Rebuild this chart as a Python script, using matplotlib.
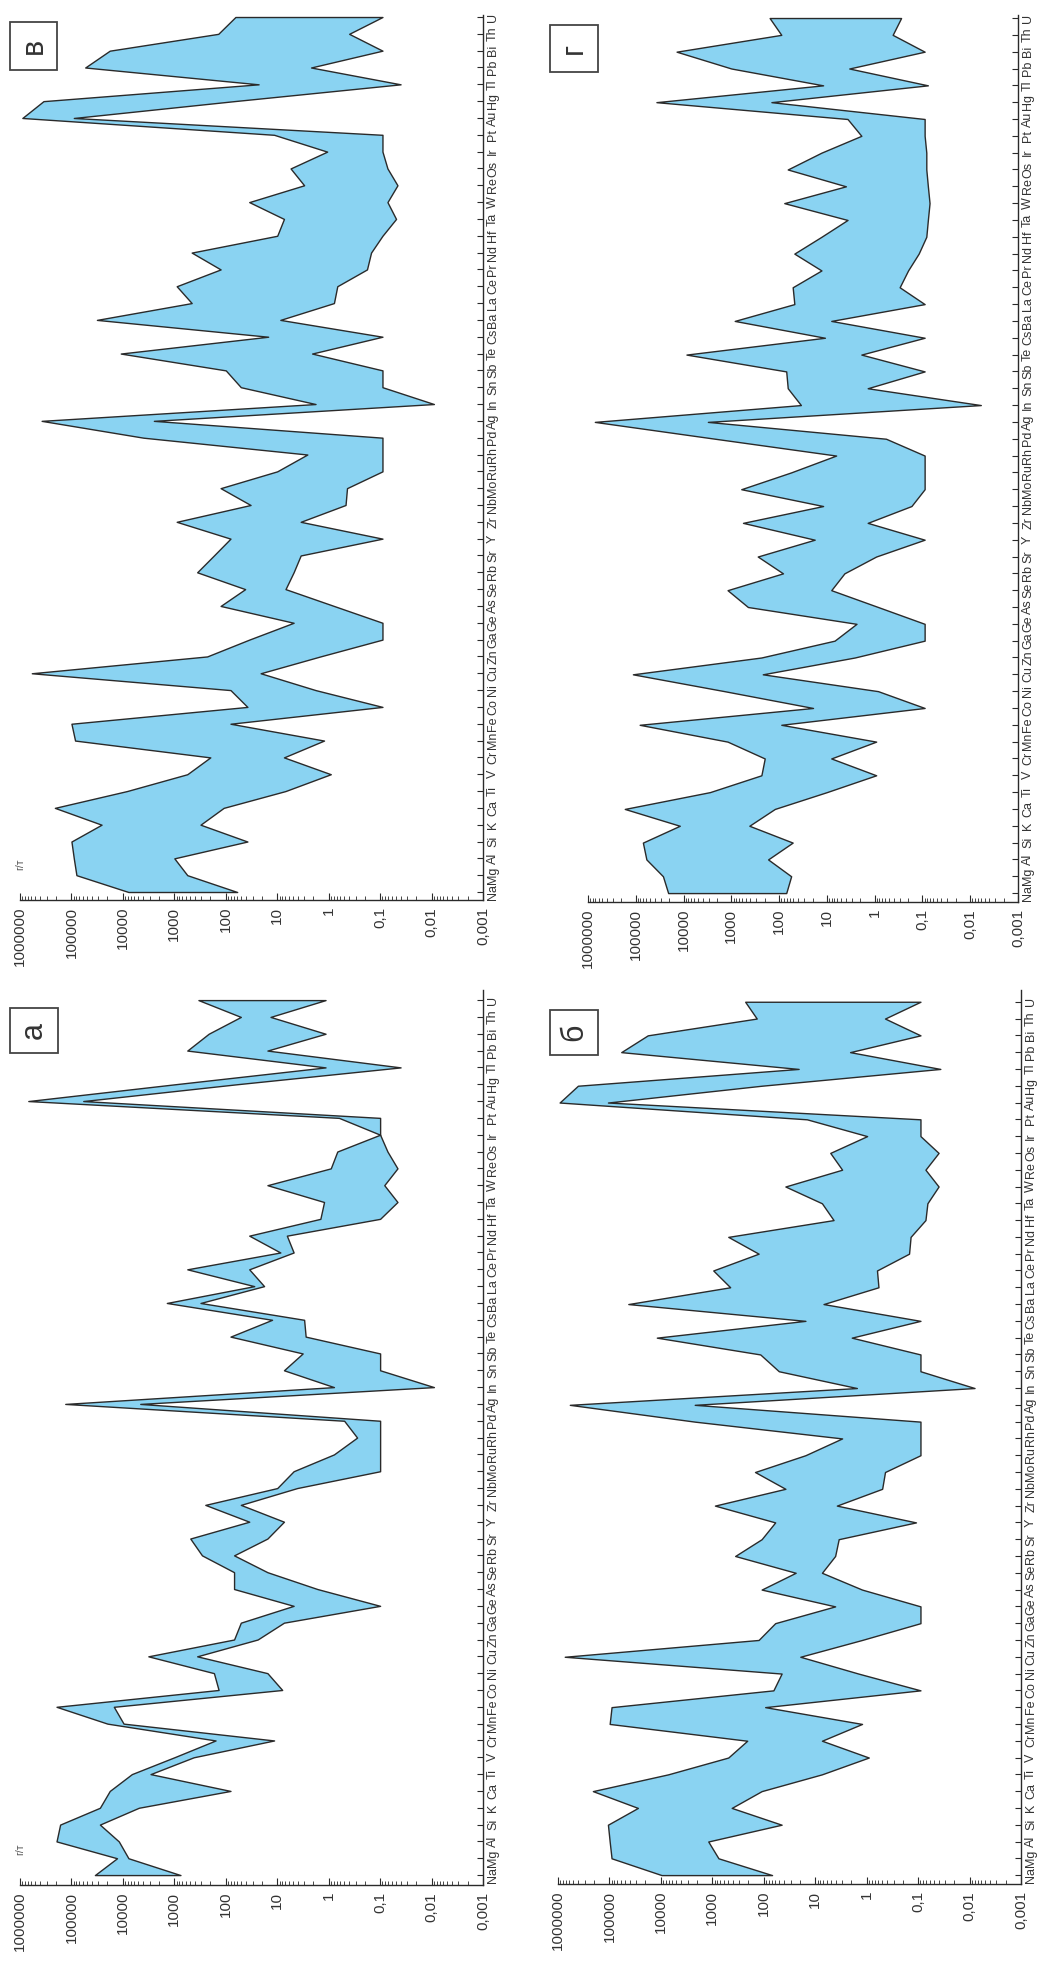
import numpy as np
import matplotlib
matplotlib.use("Agg")
import matplotlib.pyplot as plt
from matplotlib.patches import Rectangle
from matplotlib.ticker import LogLocator, NullFormatter

plt.rcParams['font.family'] = ['Liberation Sans', 'DejaVu Sans']

elements = ["Na", "Mg", "Al", "Si", "K", "Ca", "Ti", "V", "Cr", "Mn", "Fe", "Co", "Ni",
            "Cu", "Zn", "Ga", "Ge", "As", "Se", "Rb", "Sr", "Y", "Zr", "Nb", "Mo", "Ru",
            "Rh", "Pd", "Ag", "In", "Sn", "Sb", "Te", "Cs", "Ba", "La", "Ce", "Pr", "Nd",
            "Hf", "Ta", "W", "Re", "Os", "Ir", "Pt", "Au", "Hg", "Tl", "Pb", "Bi", "Th", "U"]

value_ticks = [1e6, 1e5, 1e4, 1e3, 1e2, 10, 1, 0.1, 0.01, 0.001]
value_labels = ["1000000", "100000", "10000", "1000", "100", "10", "1", "0,1", "0,01", "0,001"]

# panel "а"
a_max = [35000, 13000, 195000, 166000, 28000, 18000, 6700, 1000, 158, 20000, 195000, 138, 170,
         3200, 69, 51, 4.8, 69, 69, 290, 490, 35, 250, 10, 4.8, 0.79, 0.28, 0.5, 132000, 0.79,
         7.4, 3.2, 81, 12.6, 1400, 28, 560, 8.7, 35, 1.45, 1.23, 15.5, 0.91, 0.68, 0.1, 0.63,
         690000, 950, 1.15, 560, 215, 51, 340]
a_min = [760, 7800, 12000, 28000, 4900, 81, 2900, 420, 11.5, 9700, 15000, 8.0, 15.5,
         360, 24, 7.4, 0.1, 1.66, 15.5, 69, 15.5, 7.4, 51, 4.1, 0.1, 0.1, 0.1, 0.1, 4600, 0.009,
         0.1, 0.1, 2.8, 3.0, 310, 18, 35, 4.8, 6.5, 0.1, 0.046, 0.083, 0.046, 0.072, 0.1, 0.1,
         59000, 60, 0.04, 15.5, 1.15, 13.5, 1.15]

# panel "б"
b_max = [9700, 91000, 99000, 107000, 28000, 210000, 7200, 490, 210, 99000, 91000, 65, 45,
         740000, 126, 60, 4.1, 110, 24, 360, 110, 60, 890, 38, 148, 15.5, 3.0, 2200, 590000, 1.55,
         51, 117, 12000, 15.5, 43000, 450, 960, 126, 490, 4.4, 7.4, 38, 3.0, 5.1, 0.98, 14.5,
         930000, 410000, 21, 59000, 18000, 137, 230]
b_min = [69, 760, 1200, 45, 420, 110, 7.4, 0.91, 7.4, 1.23, 94, 0.09, 1.45,
         19.5, 1.23, 0.09, 0.09, 1.23, 7.4, 4.1, 3.5, 0.11, 3.8, 0.5, 0.44, 0.09, 0.09, 0.09, 2200, 0.008,
         0.09, 0.09, 1.95, 0.09, 6.9, 0.59, 0.63, 0.15, 0.14, 0.072, 0.066, 0.04, 0.072, 0.04, 0.09, 0.09,
         107000, 110, 0.037, 2.1, 0.09, 0.44, 0.09]

# panel "в"
v_max = [7800, 80000, 90000, 100000, 26000, 210000, 8300, 560, 200, 85000, 100000, 38, 81,
         590000, 230, 35, 4.8, 126, 42, 360, 170, 81, 900, 33, 126, 10, 2.6, 4000, 380000, 1.8,
         51, 100, 11000, 15, 32000, 460, 900, 126, 460, 10, 7.4, 35, 3.0, 5.5, 1.07, 11.5,
         900000, 350000, 23, 54000, 18000, 140, 65]
v_min = [60, 560, 1000, 38, 310, 110, 6.9, 0.91, 7.4, 1.23, 81, 0.09, 1.8,
         21, 1.45, 0.09, 0.09, 0.79, 6.9, 4.8, 3.5, 0.09, 3.5, 0.47, 0.44, 0.09, 0.09, 0.09, 2500, 0.009,
         0.09, 0.09, 2.1, 0.09, 8.7, 0.79, 0.68, 0.18, 0.15, 0.09, 0.049, 0.072, 0.046, 0.072, 0.09, 0.09,
         90000, 69, 0.04, 2.2, 0.09, 0.4, 0.09]

# panel "г"
g_max = [21000, 27000, 60000, 71000, 12000, 170000, 2800, 235, 200, 1200, 83000, 19.5, 1400,
         115000, 235, 6.9, 2.4, 450, 1200, 83, 280, 18, 570, 12, 620, 56, 6.4, 2200, 720000, 35,
         66, 71, 8700, 11, 850, 48, 52, 13, 48, 13, 3.7, 78, 4.0, 66, 13, 1.9,
         3.7, 37000, 12, 1000, 14000, 90, 158]
g_min = [71, 56, 170, 52, 420, 123, 10, 0.93, 8.1, 0.93, 90, 0.09, 0.85,
         220, 2.6, 0.09, 0.09, 0.85, 8.1, 4.3, 0.93, 0.09, 1.4, 0.17, 0.09, 0.09, 0.09, 0.58, 3100, 0.006,
         1.4, 0.09, 1.9, 0.09, 8.1, 0.09, 0.3, 0.2, 0.12, 0.083, 0.077, 0.071, 0.077, 0.083, 0.083, 0.09,
         0.09, 145, 0.077, 3.4, 0.09, 0.42, 0.28]

W, H = 1055, 1961
fill_color = "#8ad3f2"
line_color = "#2a2a2a"
text_color = "#333333"

fig = plt.figure(figsize=(W / 100, H / 100), dpi=100)

def px_rect(x0, x1, ytop, ybot):
    return [x0 / W, 1 - ybot / H, (x1 - x0) / W, (ybot - ytop) / H]

panels = [
    ("в", v_max, v_min, (20, 483, 15, 900), (-0.475, 52.12), (10, 22, 47, 48), True),
    ("г", g_max, g_min, (588, 1018, 15, 902), (-0.53, 52.18), (550, 25, 48, 47), False),
    ("а", a_max, a_min, (20, 483, 990, 1885), (-0.59, 52.6), (10, 1008, 48, 45), True),
    ("б", b_max, b_min, (558, 1021, 990, 1884), (-0.53, 52.7), (550, 1010, 48, 45), False),
]

y = np.arange(len(elements))
for letter, vmax, vmin, box, ylim, lbox, unit in panels:
    ax = fig.add_axes(px_rect(*box))
    ax.fill_betweenx(y, vmin, vmax, facecolor=fill_color, edgecolor=line_color, linewidth=1.0)
    ax.set_xscale("log")
    ax.set_xlim(1e6, 1e-3)
    ax.set_ylim(*ylim)
    ax.set_xticks(value_ticks)
    ax.set_xticklabels(value_labels, rotation=90, fontsize=11, color=text_color)
    ax.xaxis.set_minor_locator(LogLocator(base=10, subs=np.arange(2, 10), numticks=30))
    ax.xaxis.set_minor_formatter(NullFormatter())
    ax.yaxis.tick_right()
    ax.set_yticks(y)
    ax.set_yticklabels(elements, rotation=90, fontsize=9, color=text_color, va="center",
                       family=["Liberation Sans Narrow", "Liberation Sans", "DejaVu Sans"])
    for s in ("top", "left"):
        ax.spines[s].set_visible(False)
    for s in ("bottom", "right"):
        ax.spines[s].set_color(line_color)
        ax.spines[s].set_linewidth(1.0)
    ax.tick_params(axis="x", which="major", direction="in", length=5, width=0.8, pad=5,
                   color=line_color)
    ax.tick_params(axis="x", which="minor", direction="in", length=3, width=0.6, color=line_color)
    ax.tick_params(axis="y", direction="in", length=4, width=0.8, pad=3, color=line_color)
    ax.patch.set_alpha(0)
    if unit:
        ax.text(0.0, 0.04, "г/т", transform=ax.transAxes, rotation=90, fontsize=7.5,
                ha="center", va="center", color="#555555")
    bx, by, bw, bh = lbox
    fig.add_artist(Rectangle((bx / W, 1 - (by + bh) / H), bw / W, bh / H,
                             transform=fig.transFigure, fill=False, edgecolor="#444444",
                             linewidth=1.3))
    fig.text((bx + bw / 2) / W, 1 - (by + bh / 2) / H, letter, rotation=90, fontsize=22,
             ha="center", va="center", color="#333333")

fig.savefig("out.png", dpi=100)
